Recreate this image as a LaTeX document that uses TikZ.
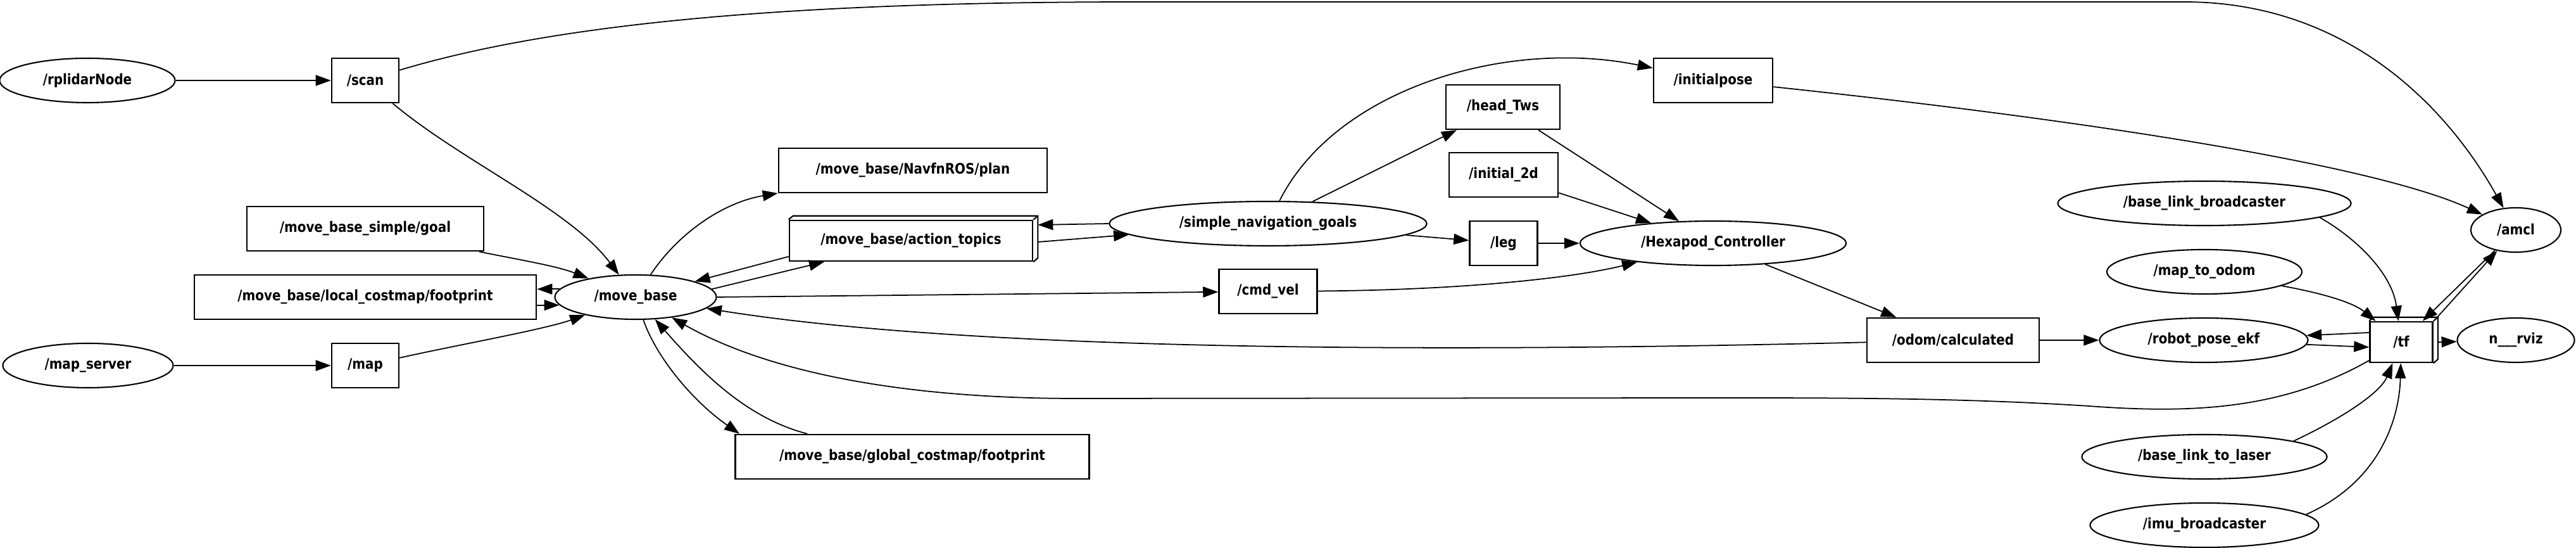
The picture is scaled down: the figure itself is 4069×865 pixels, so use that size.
\documentclass[tikz,border=0pt]{standalone}
\usepackage{fontspec}
\newfontfamily\labelfont{DejaVu Sans}[FakeStretch=0.87]
\usetikzlibrary{arrows.meta, shapes.geometric, calc}

% back and side faces of a 3d topic box
\newcommand{\boxface}[1]{%
  \draw[face] (#1.north west) -- ++(7,-6) -- ($(#1.north east)+(7,-6)$)
    -- ($(#1.south east)+(7,-6)$) -- (#1.south east)
    (#1.north east) -- ++(7,-6);}

\begin{document}
\begin{tikzpicture}[
    x=0.01cm, y=-0.01cm,
    topic/.style={draw, rectangle, line width=0.7pt, minimum height=0.7cm, inner sep=0pt, font=\labelfont\bfseries\fontsize{6.5}{8}\selectfont},
    rosnode/.style={draw, ellipse, line width=0.6pt, minimum height=0.7cm, inner sep=0pt, font=\labelfont\bfseries\fontsize{6.5}{8}\selectfont},
    arr/.style={-{Triangle[length=0.24cm, width=0.17cm]}, line width=0.5pt},
    face/.style={line width=0.6pt}
]
\useasboundingbox[fill=white] (0,0) rectangle (4069,865);

% left column
\node[rosnode, minimum width=2.77cm] (rplidar) at (138,127) {/rplidarNode};
\node[topic, minimum width=1.06cm] (scan) at (577,127) {/scan};
\node[topic, minimum width=3.74cm] (goal) at (577,361) {/move\_base\_simple/goal};
\node[topic, minimum width=5.40cm] (localfoot) at (577,469) {/move\_base/local\_costmap/footprint};
\node[rosnode, minimum width=2.55cm] (movebase) at (1004,469) {/move\_base};
\node[rosnode, minimum width=2.69cm] (mapserver) at (139,577) {/map\_server};
\node[topic, minimum width=1.06cm] (map) at (577,577) {/map};

% middle
\node[topic, minimum width=4.24cm] (plan) at (1442,269) {/move\_base/NavfnROS/plan};
\node[topic, minimum width=3.84cm, minimum height=0.64cm] (topics) at (1439,380) {/move\_base/action\_topics};
\node[topic, minimum width=5.59cm] (globalfoot) at (1441,721) {/move\_base/global\_costmap/footprint};
\node[rosnode, minimum width=5.01cm] (navgoals) at (2003,353) {/simple\_navigation\_goals};
\node[topic, minimum width=1.55cm] (cmdvel) at (2003,460) {/cmd\_vel};
\node[topic, minimum width=1.80cm] (headtws) at (2374,169) {/head\_Tws};
\node[topic, minimum width=1.72cm] (init2d) at (2375,276) {/initial\_2d};
\node[topic, minimum width=1.07cm] (leg) at (2375,384) {/leg};
\node[topic, minimum width=1.88cm] (initpose) at (2706,127) {/initialpose};
\node[rosnode, minimum width=4.20cm] (hexapod) at (2706,384) {/Hexapod\_Controller};

% right
\node[topic, minimum width=2.72cm] (odomcalc) at (3085,537) {/odom/calculated};
\node[rosnode, minimum width=4.63cm] (blbroad) at (3482,321) {/base\_link\_broadcaster};
\node[rosnode, minimum width=3.08cm] (maptoodom) at (3482,429) {/map\_to\_odom};
\node[rosnode, minimum width=3.29cm] (ekf) at (3481,537) {/robot\_pose\_ekf};
\node[rosnode, minimum width=3.87cm] (bltolaser) at (3482,721) {/base\_link\_to\_laser};
\node[rosnode, minimum width=3.61cm] (imubroad) at (3482,829) {/imu\_broadcaster};
\node[topic, minimum width=0.99cm, minimum height=0.64cm] (tf) at (3793,540) {/tf};
\node[rosnode, minimum width=1.42cm] (amcl) at (3974,363) {/amcl};
\node[rosnode, minimum width=1.85cm] (rviz) at (3974,537) {n\_\_\_rviz};

\boxface{topics}
\boxface{tf}

\draw[arr] (rplidar) -- (scan);
\draw[arr] (scan) .. controls (730,255) and (900,330) .. (movebase);
\draw[arr] (scan) .. controls (900,30) and (1300,3) .. (1800,3) -- (3450,3) .. controls (3700,3) and (3860,160) .. (amcl);
\draw[arr] (goal) .. controls (820,410) and (880,420) .. (movebase);
\draw[arr] (movebase.174) -- (movebase.174 -| localfoot.east);
\draw[arr] (movebase.186 -| localfoot.east) -- (movebase.186);
\draw[arr] (mapserver) -- (map);
\draw[arr] (map) .. controls (720,545) and (860,520) .. (movebase);
\draw[arr] (movebase) .. controls (1070,370) and (1140,320) .. (plan);
\draw[arr] ([yshift=-0.25cm]topics.west) -- (movebase);
\draw[arr] (movebase.6) -- (topics);
\draw[arr] (navgoals.west) -- ([xshift=0.07cm, yshift=0.25cm]topics.east);
\draw[arr] ([xshift=0.07cm, yshift=-0.02cm]topics.east) -- (navgoals);
\draw[arr] (movebase.east) -- (cmdvel);
\draw[arr] (cmdvel) .. controls (2300,458) and (2480,440) .. (hexapod);
\draw[arr] (odomcalc) .. controls (2300,556) and (1550,556) .. (movebase);
\draw[arr] (tf) .. controls (3600,650) and (3450,652) .. (3300,641) .. controls (3100,628) and (2900,628) .. (2700,628) -- (1700,629) .. controls (1400,629) and (1200,580) .. (movebase);
\draw[arr] (movebase) .. controls (1035,560) and (1090,630) .. ([xshift=0.08cm]globalfoot.north west);
\draw[arr] ([xshift=1.15cm]globalfoot.north west) .. controls (1180,660) and (1110,590) .. (movebase);
\draw[arr] (navgoals) .. controls (2110,140) and (2380,60) .. (initpose);
\draw[arr] (navgoals) -- (headtws);
\draw[arr] (navgoals) -- (leg);
\draw[arr] (headtws) -- (hexapod);
\draw[arr] (init2d) -- (hexapod);
\draw[arr] (leg) -- (hexapod);
\draw[arr] (initpose) .. controls (3300,190) and (3750,260) .. (amcl);
\draw[arr] (hexapod) -- (odomcalc);
\draw[arr] (odomcalc) -- (ekf);
\draw[arr] ([yshift=0.15cm]tf.west) -- (ekf);
\draw[arr] (ekf) -- ([yshift=-0.08cm]tf.west);
\draw[arr] (blbroad.-7) .. controls (3720,375) and (3778,430) .. (tf);
\draw[arr] (maptoodom) .. controls (3680,465) and (3720,480) .. (tf);
\draw[arr] (bltolaser.10) .. controls (3700,660) and (3760,620) .. (tf);
\draw[arr] (imubroad.6) .. controls (3760,760) and (3790,660) .. (tf);
\draw[arr] (amcl) -- ([xshift=-0.17cm]tf.north east);
\draw[arr] ([xshift=0.06cm, yshift=0.06cm]tf.north east) -- (amcl);
\draw[arr] ([xshift=0.07cm]tf.east) -- (rviz);
\end{tikzpicture}
\end{document}
